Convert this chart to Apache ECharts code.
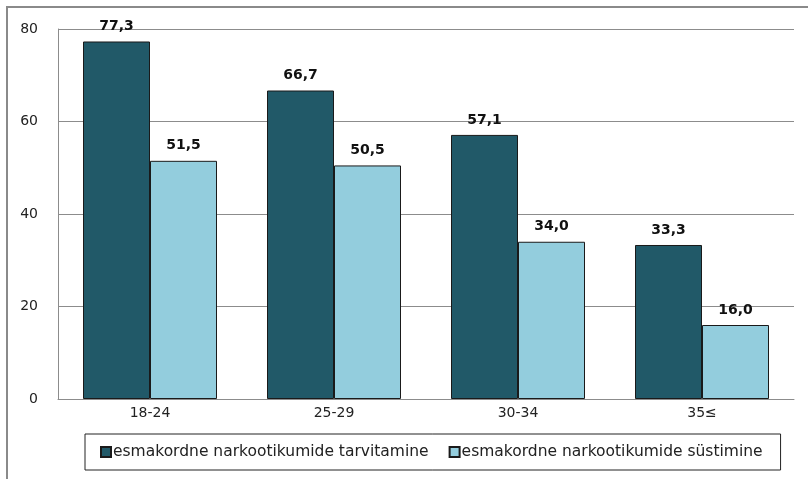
<!DOCTYPE html>
<html>
<head>
<meta charset="utf-8">
<script src="https://cdn.jsdelivr.net/npm/echarts@6/dist/echarts.min.js"></script>
<style>
  html, body { margin: 0; padding: 0; background: #fff; }
  #wrap { position: relative; width: 808px; height: 479px; }
  #frame { position: absolute; left: 6px; top: 6px; right: 0; bottom: 0;
           border-top: 2px solid #8a8a8a; border-left: 2px solid #8a8a8a; pointer-events: none; }
  #main { position: absolute; left: 0; top: 0; width: 808px; height: 479px; }
</style>
</head>
<body>
<div id="wrap">
  <div id="main"></div>
  <div id="frame"></div>
</div>
<script>
// vanuserühmad
var categories = ['18-24', '25-29', '30-34', '35≤'];
var seriesNames = ['esmakordne narkootikumide tarvitamine', 'esmakordne narkootikumide süstimine'];
var tarvitamine = [77.3, 66.7, 57.1, 33.3];
var systimine = [51.5, 50.5, 34.0, 16.0];
var yTicks = [0, 20, 40, 60, 80];

var myChart = echarts.init(document.getElementById('main'));

function fmt(p) {
  return p.value.toFixed(1).replace('.', ',');
}

var labelStyle = {
  show: true,
  position: 'top',
  distance: 8,
  fontFamily: 'DejaVu Sans',
  fontWeight: 'bold',
  fontSize: 14,
  color: '#111',
  formatter: fmt
};

var option = {
  animation: false,
  textStyle: { fontFamily: 'DejaVu Sans' },
  grid: { left: 58, right: 14, top: 29, bottom: 80 },
  legend: {
    left: 85,
    top: 434,
    padding: [10, 18, 10, 15],
    borderColor: '#222',
    borderWidth: 1,
    itemWidth: 10,
    itemHeight: 10,
    itemGap: 20,
    textStyle: { fontFamily: 'DejaVu Sans', fontSize: 15.5, color: '#222', padding: [0, 0, 0, -3] },
    data: seriesNames.map(function (n) { return { name: n, icon: 'rect' }; })
  },
  xAxis: {
    type: 'category',
    data: categories,
    axisLine: { show: true, lineStyle: { color: '#8c8c8c' } },
    axisTick: { show: false },
    axisLabel: { fontFamily: 'DejaVu Sans', fontSize: 14, color: '#222', margin: 7 }
  },
  yAxis: {
    type: 'value',
    min: yTicks[0],
    max: yTicks[yTicks.length - 1],
    interval: 20,
    axisLine: { show: true, lineStyle: { color: '#8c8c8c' } },
    axisTick: { show: false },
    splitLine: { lineStyle: { color: '#8c8c8c' } },
    axisLabel: { fontFamily: 'DejaVu Sans', fontSize: 14, color: '#222', margin: 20 }
  },
  series: [
    {
      name: seriesNames[0],
      type: 'bar',
      barWidth: 67,
      barGap: '0%',
      data: tarvitamine,
      itemStyle: { color: '#215968', borderColor: '#1a1a1a', borderWidth: 1 },
      label: labelStyle
    },
    {
      name: seriesNames[1],
      type: 'bar',
      barWidth: 67,
      barGap: '0%',
      data: systimine,
      itemStyle: { color: '#93cddd', borderColor: '#1a1a1a', borderWidth: 1 },
      label: labelStyle
    }
  ]
};

myChart.setOption(option);
</script>
</body>
</html>
